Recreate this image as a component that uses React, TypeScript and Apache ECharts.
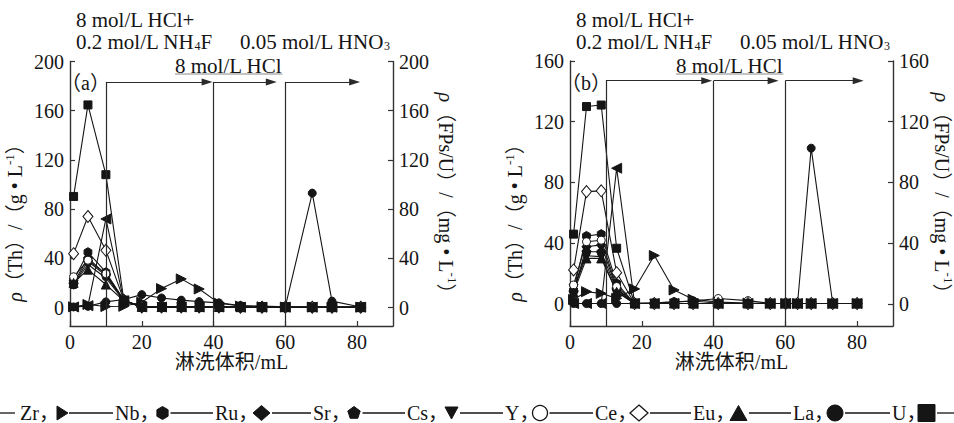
import React, { useEffect, useRef } from "react";
import * as echarts from "echarts";

// ---------- data ----------
const xA = [1, 5, 10, 15, 20, 25.5, 31, 36, 41.5, 47.5, 53.5, 60, 67.5, 73, 81];
const zrA = [0.5, 1.5, 72, 5.5, 0.5, 0.4, 0.4, 0.4, 0.4, 0.3, 0.3, 0.3, 0.3, 0.3, 0.3];
const nbA = [0.6, 2.5, 0.8, 1, 4.3, 15.4, 23.3, 15.1, 3.6, 1.2, 0.6, 0.4, 0.4, 0.4, 0.3];
const ruA = [22, 45, 28.7, 6, 0.6, 0.4, 0.4, 0.4, 0.4, 0.3, 0.3, 0.3, 0.3, 0.3, 0.3];
const srA = [20, 40.3, 26.7, 5.8, 0.5, 0.4, 0.4, 0.4, 0.4, 0.3, 0.3, 0.3, 0.3, 0.3, 0.3];
const csA = [19, 37.6, 26, 5.6, 0.5, 0.4, 0.4, 0.4, 0.3, 0.3, 0.3, 0.3, 0.3, 0.3, 0.3];
const yA = [18.5, 35, 24, 5.5, 0.5, 0.4, 0.4, 0.3, 0.3, 0.3, 0.3, 0.3, 0.3, 0.3, 0.3];
const ceA = [25, 38.5, 27.5, 6, 0.6, 0.5, 0.5, 0.5, 0.5, 0.4, 0.4, 0.3, 0.3, 0.3, 0.3];
const euA = [43.8, 74, 46.5, 6, 0.5, 0.4, 0.4, 0.4, 0.4, 0.3, 0.3, 0.3, 0.3, 0.3, 0.3];
const laA = [20, 30.8, 18.7, 5.5, 0.5, 0.4, 0.4, 0.4, 0.4, 0.3, 0.3, 0.3, 0.3, 0.3, 0.3];
const uA = [0.5, 1, 4.6, 6.5, 10.5, 7.8, 6, 4.8, 3.8, 1.6, 1.2, 0.7, 93, 5.2, 0.5];
const thA = [90.3, 164.7, 108, 6, 0.5, 0.4, 0.4, 0.4, 0.4, 0.3, 0.3, 0.3, 0.3, 0.3, 0.3];

const xB = [1, 4.6, 8.7, 13, 18, 23.5, 29, 34.3, 41.3, 49.6, 55.8, 60.1, 63.4, 67.2, 73.2, 80];
const zrB = [0.3, 0.3, 0.3, 89.4, 0.3, 0.3, 0.3, 0.3, 0.3, 0.3, 0.3, 0.3, 0.3, 0.3, 0.3, 0.3];
const nbB = [3, 8.1, 7, 3.7, 9.9, 31.9, 9.2, 3.1, 1.2, 0.6, 0.4, 0.3, 0.3, 0.3, 0.3, 0.3];
const ruB = [9, 44.8, 46, 13.6, 0.3, 0.3, 0.3, 0.3, 0.3, 0.3, 0.3, 0.3, 0.3, 0.3, 0.3, 0.3];
const srB = [8, 37.7, 38.9, 10, 0.3, 0.3, 0.3, 0.3, 0.3, 0.3, 0.3, 0.3, 0.3, 0.3, 0.3, 0.3];
const csB = [8.5, 34.4, 34.4, 9.3, 0.3, 0.3, 0.3, 0.3, 0.3, 0.3, 0.3, 0.3, 0.3, 0.3, 0.3, 0.3];
const yB = [10, 31.8, 31.2, 8.1, 0.3, 0.3, 0.3, 0.3, 0.3, 0.3, 0.3, 0.3, 0.3, 0.3, 0.3, 0.3];
const ceB = [12.5, 41, 42, 11.5, 0.5, 0.8, 1.2, 2, 3.6, 2.2, 0.4, 0.3, 0.3, 0.3, 0.3, 0.3];
const euB = [22.4, 74, 74.5, 20.6, 0.3, 0.3, 0.3, 0.3, 0.3, 0.3, 0.3, 0.3, 0.3, 0.3, 0.3, 0.3];
const laB = [7.5, 30, 30, 8, 0.3, 0.3, 0.3, 0.3, 0.3, 0.3, 0.3, 0.3, 0.3, 0.3, 0.3, 0.3];
const uB = [0.3, 0.3, 0.3, 0.3, 0.3, 0.6, 1.5, 2, 0.5, 0.3, 0.3, 0.3, 0.3, 102.6, 0.5, 0.3];
const thB = [46, 130, 131, 36.7, 0.5, 0.3, 0.3, 0.3, 0.3, 0.3, 0.3, 0.3, 0.3, 0.3, 0.3, 0.3];

const xTicks = [0, 20, 40, 60, 80];
const yTicksA = [0, 40, 80, 120, 160, 200];
const yTicksB = [0, 40, 80, 120, 160];

const phaseStarts = [10, 40, 60];
const arrowEndsA = [38.2, 56.1, 79.3];
const arrowEndsB = [38.1, 56.6, 80.3];

const legendNames = ["Zr", "Nb", "Ru", "Sr", "Cs", "Y", "Ce", "Eu", "La", "U"];

// ---------- styles ----------
const INK = "#151515";
const AXIS = "#333";
const SERIF = "Liberation Serif, Noto Sans CJK SC, serif";
const FS = 20;
const FS_NOTE = 21;

const HEX = "path://M0,-10 L8.66,-5 L8.66,5 L0,10 L-8.66,5 L-8.66,-5 Z";
const PENT = "path://M0,-10 L9.51,-3.09 L5.88,8.09 L-5.88,8.09 L-9.51,-3.09 Z";

const specs: any[] = [
  { name: "Zr", symbol: "triangle", rotate: 90, size: 10, fill: INK, legend: "" },
  { name: "Nb", symbol: "triangle", rotate: -90, size: 10, fill: INK, legend: "triRight" },
  { name: "Ru", symbol: HEX, size: 9, fill: INK, legend: "hex" },
  { name: "Sr", symbol: "diamond", size: [9, 11], fill: INK, legend: "diamond" },
  { name: "Cs", symbol: PENT, size: 9, fill: INK, legend: "pent" },
  { name: "Y", symbol: "triangle", rotate: 180, size: 9, fill: INK, legend: "triDown" },
  { name: "Ce", symbol: "circle", size: 8, fill: "#fff", legend: "circleOpen" },
  { name: "Eu", symbol: "diamond", size: [10, 12], fill: "#fff", legend: "diamondOpen" },
  { name: "La", symbol: "triangle", size: 9, fill: INK, legend: "triUp" },
  { name: "U", symbol: "circle", size: 8, fill: INK, legend: "circle" },
  { name: "Th", symbol: "rect", size: 8, fill: INK, legend: "square" },
];

const valsA = [zrA, nbA, ruA, srA, csA, yA, ceA, euA, laA, uA, thA];
const valsB = [zrB, nbB, ruB, srB, csB, yB, ceB, euB, laB, uB, thB];

let measureCtx: CanvasRenderingContext2D | null = null;
function measure(text: string, size: number, italic = false) {
  if (!measureCtx) measureCtx = document.createElement("canvas").getContext("2d")!;
  measureCtx.font = `${italic ? "italic " : ""}${size}px ${SERIF}`;
  return measureCtx.measureText(text).width;
}

function txt(text: string, x: number, y: number, opts: any = {}) {
  return {
    type: "text",
    x,
    y,
    silent: true,
    rotation: opts.rotation || 0,
    style: {
      text,
      fontSize: opts.size || FS,
      fontFamily: SERIF,
      fontStyle: opts.italic ? "italic" : "normal",
      fill: INK,
      align: opts.align || "left",
      textAlign: opts.align || "left",
      verticalAlign: "middle",
      textVerticalAlign: "middle",
    },
  };
}

type Piece = { t: string; size?: number; shift?: number; italic?: boolean };

// lays out a run of text pieces (with sub/superscripts) horizontally or rotated
function run(pieces: Piece[], x: number, y: number, dir: "h" | "up" | "down", center: boolean, base: number) {
  const widths = pieces.map((p) => measure(p.t, p.size || base, p.italic));
  const W = widths.reduce((a, b) => a + b, 0);
  const out: any[] = [];
  let adv = 0;
  pieces.forEach((p, i) => {
    const size = p.size || base;
    const sh = p.shift || 0;
    if (dir === "h") {
      const x0 = center ? x - W / 2 : x;
      out.push(txt(p.t, x0 + adv, y + sh, { size, italic: p.italic }));
    } else if (dir === "up") {
      const y0 = center ? y + W / 2 : y;
      out.push(txt(p.t, x + sh, y0 - adv, { size, italic: p.italic, rotation: Math.PI / 2 }));
    } else {
      const y0 = center ? y - W / 2 : y;
      out.push(txt(p.t, x - sh, y0 + adv, { size, italic: p.italic, rotation: -Math.PI / 2 }));
    }
    adv += widths[i];
  });
  return out;
}

function legendShape(kind: string, cx: number, cy: number): any {
  const fillStyle = { fill: INK, stroke: INK, lineWidth: 1 };
  const openStyle = { fill: "#fff", stroke: INK, lineWidth: 1.3 };
  const poly = (pts: number[][], st: any) => ({ type: "polygon", silent: true, shape: { points: pts }, style: st });
  switch (kind) {
    case "triRight":
      return poly([[cx - 5, cy - 7], [cx + 6, cy], [cx - 5, cy + 7]], fillStyle);
    case "hex":
      return poly([[cx, cy - 6.5], [cx + 5.6, cy - 3.25], [cx + 5.6, cy + 3.25], [cx, cy + 6.5], [cx - 5.6, cy + 3.25], [cx - 5.6, cy - 3.25]], fillStyle);
    case "diamond":
      return poly([[cx, cy - 7.5], [cx + 8.5, cy], [cx, cy + 7.5], [cx - 8.5, cy]], fillStyle);
    case "pent":
      return poly([[cx, cy - 6.5], [cx + 6.2, cy - 2], [cx + 3.8, cy + 5.3], [cx - 3.8, cy + 5.3], [cx - 6.2, cy - 2]], fillStyle);
    case "triDown":
      return poly([[cx - 6.5, cy - 6], [cx + 6.5, cy - 6], [cx, cy + 6]], fillStyle);
    case "circleOpen":
      return { type: "circle", silent: true, shape: { cx, cy, r: 7.5 }, style: openStyle };
    case "diamondOpen":
      return poly([[cx, cy - 8], [cx + 9, cy], [cx, cy + 8], [cx - 9, cy]], openStyle);
    case "triUp":
      return poly([[cx, cy - 7.5], [cx + 8.5, cy + 7.5], [cx - 8.5, cy + 7.5]], fillStyle);
    case "circle":
      return { type: "circle", silent: true, shape: { cx, cy, r: 8 }, style: fillStyle };
    default:
      return { type: "rect", silent: true, shape: { x: cx - 8.5, y: cy - 8.5, width: 17, height: 17 }, style: fillStyle };
  }
}

function hline(x1: number, x2: number, y: number, color = INK, w = 1.3) {
  return { type: "line", silent: true, shape: { x1, y1: y, x2, y2: y }, style: { stroke: color, lineWidth: w } };
}

function buildGraphic() {
  const els: any[] = [];
  [0, 500].forEach((dx, p) => {
    els.push(...run([{ t: "8 mol/L HCl+" }], 76 + dx, 20, "h", false, FS_NOTE));
    els.push(...run([{ t: "0.2 mol/L NH" }, { t: "4", size: 12, shift: 3.5 }, { t: "F" }], 76 + dx, 42, "h", false, FS_NOTE));
    els.push(...run([{ t: "0.05 mol/L HNO" }, { t: "3", size: 12, shift: 3.5 }], 240 + dx, 42, "h", false, FS_NOTE));
    const hx = 175 + dx + p;
    els.push(...run([{ t: "8 mol/L HCl" }], hx, 66, "h", false, FS_NOTE));
    els.push(hline(hx, hx + measure("8 mol/L HCl", FS_NOTE), 74, "#888", 1));
    els.push(txt(p === 0 ? "（a）" : "（b）", 61 + dx, 83));
    els.push(
      ...run(
        [{ t: "ρ", italic: true }, { t: "（Th）/（g • L" }, { t: "-1", size: 13, shift: -6 }, { t: "）" }],
        15 + dx, 218, "up", true, FS
      )
    );
    els.push(
      ...run(
        [{ t: "ρ", italic: true }, { t: "（FPs/U）/（mg • L" }, { t: "-1", size: 13, shift: -6 }, { t: "）" }],
        (p === 0 ? 446 : 942), 198, "down", true, FS
      )
    );
    els.push(txt("淋洗体积/mL", 231.5 + dx, 362, { align: "center" }));
  });

  // legend (cropped at both ends as in the source figure)
  const nameX = [20, 115, 215, 313, 407, 505, 595, 693, 793, 892];
  const symCx = [62, 162.5, 261.5, 354, 451.5, 540, 639, 738.5, 835, 926.5];
  const symHalf = [5, 6, 8.5, 6.5, 6.5, 7.5, 9, 8.5, 8, 8.5];
  const ly = 413;
  els.push(hline(0, 15, ly));
  legendNames.forEach((n, i) => {
    els.push(txt(n + "，", nameX[i], ly));
    els.push(legendShape(specs[i + 1].legend, symCx[i], ly));
    const start = symCx[i] + symHalf[i] + 2;
    const end = i < legendNames.length - 1 ? nameX[i + 1] - 2 : 954;
    els.push(hline(start, end, ly));
  });
  return els;
}

function markData(ends: number[], yTop: number, yBottom: number) {
  const out: any[] = [];
  phaseStarts.forEach((s, i) => {
    out.push([{ coord: [s, yBottom] }, { coord: [s, yTop] }]);
    out.push([{ coord: [s, yTop] }, { coord: [ends[i], yTop], symbol: "triangle", symbolSize: [7, 11] }]);
  });
  return out;
}

function buildSeries() {
  const out: any[] = [];
  [
    { xs: xA, vals: valsA, ends: arrowEndsA, top: 183.4, bottom: -15 },
    { xs: xB, vals: valsB, ends: arrowEndsB, top: 147, bottom: -14.5 },
  ].forEach((panel, p) => {
    specs.forEach((s, k) => {
      const ser: any = {
        type: "line",
        name: s.name,
        xAxisIndex: p,
        yAxisIndex: p * 2,
        data: panel.xs.map((x, i) => [x, panel.vals[k][i]]),
        symbol: s.symbol,
        symbolSize: s.size,
        symbolRotate: s.rotate || 0,
        symbolKeepAspect: true,
        lineStyle: { color: INK, width: 1.1 },
        itemStyle: { color: s.fill, borderColor: INK, borderWidth: 1 },
        emphasis: { disabled: true },
        silent: true,
        z: 3,
      };
      if (k === 0) {
        ser.markLine = {
          silent: true,
          animation: false,
          symbol: ["none", "none"],
          label: { show: false },
          emphasis: { disabled: true },
          lineStyle: { color: "#2a2a2a", width: 1.2, type: "solid" },
          data: markData(panel.ends, panel.top, panel.bottom),
        };
      }
      out.push(ser);
    });
  });
  return out;
}

function xAxis(gridIndex: number) {
  return {
    type: "value",
    gridIndex,
    min: 0,
    max: 90,
    axisLine: { show: true, onZero: false, lineStyle: { color: AXIS, width: 1.4 } },
    axisTick: { show: true, inside: true, length: 5, customValues: xTicks, lineStyle: { color: AXIS, width: 1.2 } },
    axisLabel: { customValues: xTicks, fontSize: FS, fontFamily: SERIF, color: INK, margin: 6 },
    splitLine: { show: false },
  };
}

function yAxis(gridIndex: number, position: string, min: number, max: number, ticks: number[]) {
  return {
    type: "value",
    gridIndex,
    position,
    min,
    max,
    axisLine: { show: true, onZero: false, lineStyle: { color: AXIS, width: 1.4 } },
    axisTick: { show: true, inside: true, length: 5, customValues: ticks, lineStyle: { color: AXIS, width: 1.2 } },
    axisLabel: { customValues: ticks, fontSize: FS, fontFamily: SERIF, color: INK, margin: 6 },
    splitLine: { show: false },
  };
}

export default function App() {
  const ref = useRef<HTMLDivElement>(null);
  useEffect(() => {
    const chart = echarts.init(ref.current!, null, { renderer: "svg" });
    chart.setOption({
      animation: false,
      backgroundColor: "#fff",
      grid: [
        { left: 70, top: 61.5, width: 323, height: 264.5, outerBoundsMode: "none", containLabel: false },
        { left: 570, top: 61, width: 323, height: 265, outerBoundsMode: "none", containLabel: false },
      ],
      xAxis: [xAxis(0), xAxis(1)],
      yAxis: [
        yAxis(0, "left", -15, 200, yTicksA),
        yAxis(0, "right", -15, 200, yTicksA),
        yAxis(1, "left", -14.5, 160, yTicksB),
        yAxis(1, "right", -14.5, 160, yTicksB),
      ],
      series: buildSeries(),
      graphic: buildGraphic(),
    });
    return () => chart.dispose();
  }, []);
  return <div ref={ref} style={{ position: "absolute", left: 0, top: 0, width: 954, height: 423 }} />;
}
